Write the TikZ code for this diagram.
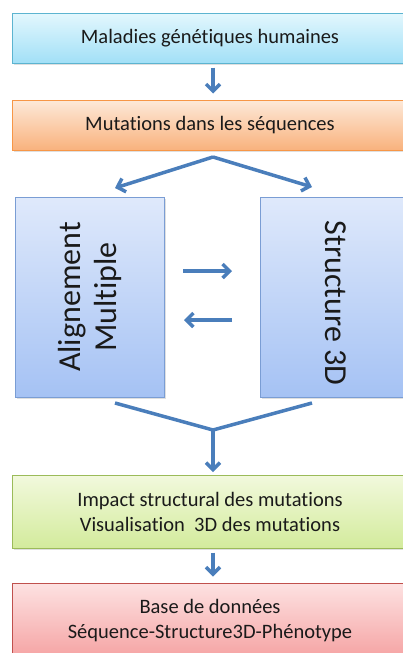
\documentclass[tikz,border=0pt]{standalone}
\usepackage{fontspec}
\setmainfont[Ligatures=NoCommon]{Carlito}
\usetikzlibrary{arrows.meta,shadows}
\definecolor{arrowblue}{HTML}{4A7EBB}
\definecolor{txt}{HTML}{1A1A1A}
\definecolor{cyanT}{HTML}{E3F7FD}\definecolor{cyanB}{HTML}{A2E0F7}\definecolor{cyanD}{HTML}{5CB4D0}
\definecolor{orT}{HTML}{FDE9D9}\definecolor{orB}{HTML}{F9B27D}\definecolor{orD}{HTML}{F79646}
\definecolor{blT}{HTML}{DFE9FB}\definecolor{blB}{HTML}{A5C2F4}\definecolor{blD}{HTML}{7A9DD4}
\definecolor{grT}{HTML}{F2F9DD}\definecolor{grB}{HTML}{D3EB9C}\definecolor{grD}{HTML}{9BBB59}
\definecolor{rdT}{HTML}{FDE2E2}\definecolor{rdB}{HTML}{F5A3A3}\definecolor{rdD}{HTML}{C0504D}
\tikzset{
  box/.style={draw, line width=1pt, minimum width=396pt, text=txt, align=center,
    font=\fontsize{20.5}{25}\selectfont,
    drop shadow={opacity=0.25, shadow xshift=1.5pt, shadow yshift=-2pt}},
  cyanbox/.style={box, draw=cyanD, top color=cyanT, bottom color=cyanB},
  orangebox/.style={box, draw=orD, top color=orT, bottom color=orB},
  bluebox/.style={box, draw=blD, top color=blT, bottom color=blB, minimum height=200pt},
  greenbox/.style={box, draw=grD, top color=grT, bottom color=grB},
  redbox/.style={box, draw=rdD, top color=rdT, bottom color=rdB},
  vtext/.style={text=txt, align=center, font=\fontsize{32}{36}\selectfont},
  arr/.style={draw=arrowblue, line width=3.5pt, -{Straight Barb[length=7pt,width=14pt,line width=3.5pt]}},
  seg/.style={draw=arrowblue, line width=3.5pt},
}
\begin{document}
\begin{tikzpicture}[x=1pt,y=-1pt]
\useasboundingbox (0,0) rectangle (403,653);
\clip (0,0) rectangle (403,653);
\node[cyanbox, minimum height=50pt] (mal) at (210,38) {Maladies génétiques humaines};
\node[orangebox, minimum height=50pt] (mut) at (210,125) {Mutations dans les séquences};
\node[bluebox, minimum width=149pt] (ali) at (89.5,297) {};
\node[bluebox, minimum width=152pt] (str) at (336,297) {};
\node[vtext, rotate=90] (alit) at (ali.center) {Alignement\\Multiple};
\node[vtext, rotate=-90] (strt) at (336,303) {Structure 3D};
\node[greenbox, minimum height=73pt] (imp) at (210,511.5) {Impact structural des mutations\\Visualisation \ 3D des mutations};
\node[redbox, minimum height=75pt] (bdd) at (210,620.5) {Base de données\\Séquence-Structure3D-Phénotype};

\coordinate (split) at (213,157);
\coordinate (ltip) at (115,188);
\coordinate (rtip) at (312,187);
\coordinate (lstart) at (115,403);
\coordinate (rstart) at (312,403);
\coordinate (join) at (213,430);
\coordinate (jtip) at (213,472);
\coordinate (ra1) at (183,271);
\coordinate (ra2) at (232,271);
\coordinate (la1) at (232,320);
\coordinate (la2) at (184,320);

\draw[arr, shorten <=4pt, shorten >=6pt] (mal.south -| split) -- (mut.north -| split);
\draw[arr] (split) -- (ltip);
\draw[arr] (split) -- (rtip);
\draw[arr] (ra1) -- (ra2);
\draw[arr] (la1) -- (la2);
\draw[seg, line join=miter] (lstart) -- (join) -- (rstart);
\draw[arr] (join) -- (jtip);
\draw[arr, shorten <=4pt, shorten >=6pt] (imp.south -| split) -- (bdd.north -| split);
\end{tikzpicture}
\end{document}
